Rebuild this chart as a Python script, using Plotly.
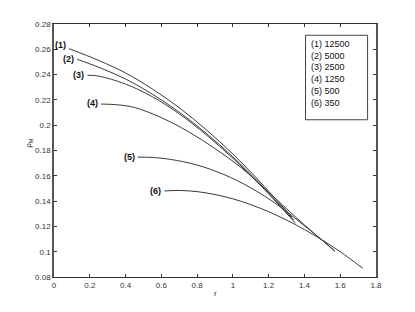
import plotly.graph_objects as go

# ---- data ----
labels = ["(1)", "(2)", "(3)", "(4)", "(5)", "(6)"]
legend_lines = ["(1) 12500", "(2) 5000", "(3) 2500", "(4) 1250", "(5) 500", "(6) 350"]

r1 = [0.084, 0.25, 0.4, 0.55, 0.7, 0.85, 1.0, 1.15, 1.25, 1.33]
p1 = [0.2605, 0.2512, 0.2413, 0.2286, 0.2138, 0.1965, 0.1772, 0.1555, 0.1400, 0.1275]

r2 = [0.13, 0.25, 0.4, 0.55, 0.7, 0.85, 1.0, 1.15, 1.25, 1.34]
p2 = [0.2521, 0.2458, 0.2365, 0.2245, 0.2103, 0.1937, 0.1750, 0.1540, 0.1388, 0.1250]

r3 = [0.187, 0.25, 0.4, 0.55, 0.7, 0.85, 1.0, 1.15, 1.25, 1.35]
p3 = [0.2395, 0.2388, 0.2325, 0.2225, 0.2090, 0.1925, 0.1738, 0.1530, 0.1380, 0.1225]

r4 = [0.263, 0.35, 0.45, 0.6, 0.75, 0.9, 1.05, 1.2, 1.35, 1.45, 1.57]
p4 = [0.2167, 0.2162, 0.2140, 0.2060, 0.1950, 0.1815, 0.1660, 0.1470, 0.1275, 0.1150, 0.1005]

r5 = [0.468, 0.55, 0.65, 0.8, 0.95, 1.1, 1.25, 1.4, 1.5, 1.57]
p5 = [0.1748, 0.1745, 0.1730, 0.1685, 0.1610, 0.1505, 0.1370, 0.1205, 0.1090, 0.1005]

r6 = [0.617, 0.7, 0.8, 0.9, 1.0, 1.1, 1.2, 1.3, 1.4, 1.5, 1.6, 1.725]
p6 = [0.1480, 0.1484, 0.1475, 0.1452, 0.1418, 0.1372, 0.1316, 0.1250, 0.1175, 0.1092, 0.1000, 0.0870]

xs = [r1, r2, r3, r4, r5, r6]
ys = [p1, p2, p3, p4, p5, p6]
label_yshift = [4, 0, 0, 1, 0, 0]

x_ticks = [0, 0.2, 0.4, 0.6, 0.8, 1, 1.2, 1.4, 1.6, 1.8]
y_ticks = [0.08, 0.1, 0.12, 0.14, 0.16, 0.18, 0.2, 0.22, 0.24, 0.26, 0.28]

FONT = "Liberation Sans, Arial, sans-serif"
LINE = "#3a3a3a"

fig = go.Figure()
for x, y in zip(xs, ys):
    fig.add_trace(go.Scatter(x=x, y=y, mode="lines",
                             line=dict(color=LINE, width=1, shape="spline", smoothing=1),
                             showlegend=False, hoverinfo="skip"))

for lab, x, y, ysh in zip(labels, xs, ys, label_yshift):
    fig.add_annotation(x=x[0], y=y[0], text="<b>" + lab + "</b>", showarrow=False,
                       xanchor="right", yanchor="middle", xshift=-1, yshift=ysh,
                       font=dict(family=FONT, size=9, color="#111"))

# legend box
fig.add_shape(type="rect", xref="x", yref="y", x0=1.406, x1=1.753, y0=0.2043, y1=0.2711,
              line=dict(color="#444", width=1), fillcolor="white")
fig.add_annotation(x=1.425, y=0.2711, xref="x", yref="y", xanchor="left", yanchor="top",
                   yshift=-2, showarrow=False, align="left",
                   text="<br>".join(legend_lines),
                   font=dict(family=FONT, size=9, color="#111"))

# axis titles
fig.add_annotation(xref="paper", yref="paper", x=0.5, y=-0.065, text="r", showarrow=False,
                   xanchor="center", yanchor="middle", font=dict(family=FONT, size=8, color="#222"))
fig.add_annotation(xref="paper", yref="paper", x=-0.078, y=0.53, text="ρ<sub>M</sub>", showarrow=False,
                   textangle=-90, xanchor="center", yanchor="middle",
                   font=dict(family=FONT, size=8, color="#222"))

axis_common = dict(showgrid=False, zeroline=False, ticks="inside", ticklen=3, tickwidth=1,
                   tickcolor="#333", mirror="ticks", showline=True,
                   tickfont=dict(family=FONT, size=8, color="#333"))

fig.update_xaxes(range=[0, 1.8], tickvals=x_ticks, linecolor="#333", linewidth=1, **axis_common)
fig.update_yaxes(range=[0.08, 0.28], tickvals=y_ticks, linecolor="#555", linewidth=1.5, **axis_common)

fig.update_layout(width=415, height=312, margin=dict(l=46, r=47, t=16, b=43),
                  plot_bgcolor="white", paper_bgcolor="white",
                  font=dict(family=FONT, size=8))

fig.write_html("out.html")
